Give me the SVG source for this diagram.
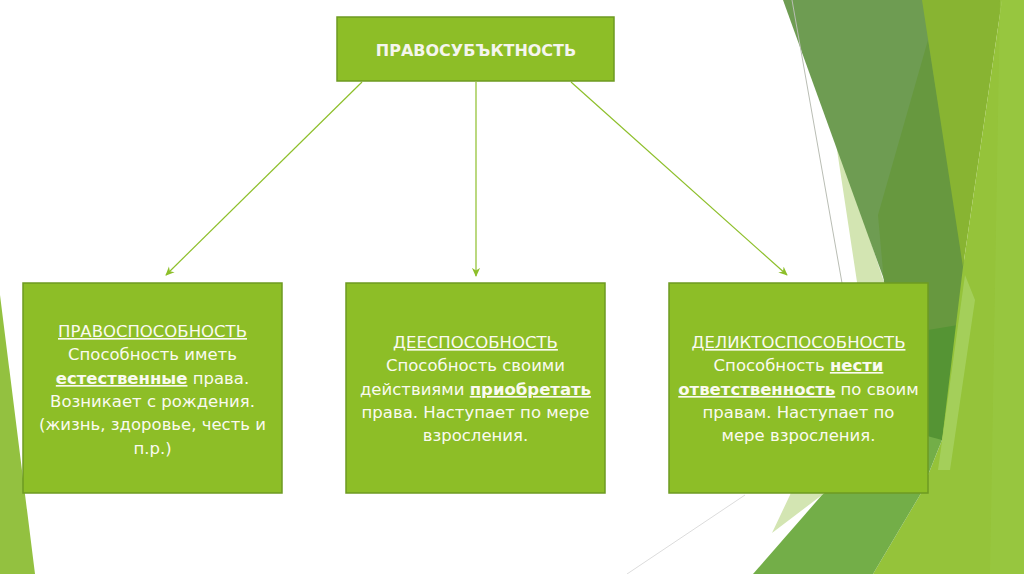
<svg xmlns="http://www.w3.org/2000/svg" width="1024" height="574" viewBox="0 0 1024 574">
  <defs>
    <marker id="arrow" viewBox="0 0 10 10" refX="9" refY="5" markerWidth="9" markerHeight="9" markerUnits="userSpaceOnUse" orient="auto">
      <path d="M0,0.5 L10,5 L0,9.5 L3,5 Z" fill="#8dbf2a"/>
    </marker>
    <style>
      .box { fill: #8dbe27; stroke: #6e9a22; stroke-width: 1.5; }
      .conn { stroke: #8dbf2a; stroke-width: 1.2; fill: none; marker-end: url(#arrow); }
      .txt { font-family: "DejaVu Sans", "Noto Sans", sans-serif; font-size: 16.5px; fill: #fafaf0; text-anchor: middle; }
      .title { font-family: "DejaVu Sans", "Noto Sans", sans-serif; font-size: 16px; font-weight: bold; fill: #f5f5ee; text-anchor: middle; }
      .u { text-decoration: underline; }
      .b { font-weight: bold; }
    </style>
  </defs>

  <rect width="1024" height="574" fill="#ffffff"/>

  <g id="background">
    <polygon points="0,295 35,574 0,574" fill="#93c140"/>
    <polygon points="834,130 885,285 905,430 822,495 772,533 790,495 857,282" fill="#d3e5b2"/>
    <polygon points="783,0 930,0 965,270 942,440" fill="#6e9c52"/>
    <polygon points="928,40 965,270 942,440 884,282 878,215" fill="#67983f"/>
    <polygon points="928,330 958,325 942,440 928,440" fill="#559434"/>
    <polygon points="922,0 1002,0 963,267" fill="#88b432"/>
    <polygon points="1002,0 1024,0 1024,574 873,574 920,495 942,440 963,267" fill="#95c33a"/>
    <polygon points="1000,0 1024,0 1024,574 990,574" fill="#99c742" opacity="0.7"/>
    <polygon points="965,275 975,300 950,470 938,470" fill="#a8d263" opacity="0.8"/>
    <polygon points="753,574 873,574 920,495 942,440 905,430 822,495" fill="#73ae48"/>
    <line x1="792" y1="0" x2="842" y2="283" stroke="#b9bdb4" stroke-width="1"/>
    <line x1="627" y1="574" x2="745" y2="495" stroke="#dcdcdc" stroke-width="1"/>
  </g>

  <g id="connectors">
    <line class="conn" x1="362" y1="82" x2="166" y2="275"/>
    <line class="conn" x1="476" y1="82" x2="476" y2="276"/>
    <line class="conn" x1="571" y1="82" x2="787" y2="275"/>
  </g>

  <g id="node-root">
    <rect class="box" x="337" y="17" width="277" height="64"/>
    <text class="title" x="476" y="55.5">ПРАВОСУБЪКТНОСТЬ</text>
  </g>

  <g id="node-pravosposobnost">
    <rect class="box" x="23" y="283" width="259" height="210"/>
    <text class="txt" x="152.5" y="337"><tspan class="u">ПРАВОСПОСОБНОСТЬ</tspan></text>
    <text class="txt" x="152.5" y="360">Способность иметь</text>
    <text class="txt" x="152.5" y="384"><tspan class="b u">естественные</tspan> права.</text>
    <text class="txt" x="152.5" y="407">Возникает с рождения.</text>
    <text class="txt" x="152.5" y="430">(жизнь, здоровье, честь и</text>
    <text class="txt" x="152.5" y="454">п.р.)</text>
  </g>

  <g id="node-deesposobnost">
    <rect class="box" x="346" y="283" width="259" height="210"/>
    <text class="txt" x="475.5" y="348"><tspan class="u">ДЕЕСПОСОБНОСТЬ</tspan></text>
    <text class="txt" x="475.5" y="371">Способность своими</text>
    <text class="txt" x="475.5" y="395">действиями <tspan class="b u">приобретать</tspan></text>
    <text class="txt" x="475.5" y="418">права. Наступает по мере</text>
    <text class="txt" x="475.5" y="441">взросления.</text>
  </g>

  <g id="node-deliktosposobnost">
    <rect class="box" x="669" y="283" width="259" height="210"/>
    <text class="txt" x="798.5" y="348"><tspan class="u">ДЕЛИКТОСПОСОБНОСТЬ</tspan></text>
    <text class="txt" x="798.5" y="371">Способность <tspan class="b u">нести</tspan></text>
    <text class="txt" x="798.5" y="395"><tspan class="b u">ответственность</tspan> по своим</text>
    <text class="txt" x="798.5" y="418">правам. Наступает по</text>
    <text class="txt" x="798.5" y="441">мере взросления.</text>
  </g>
</svg>
